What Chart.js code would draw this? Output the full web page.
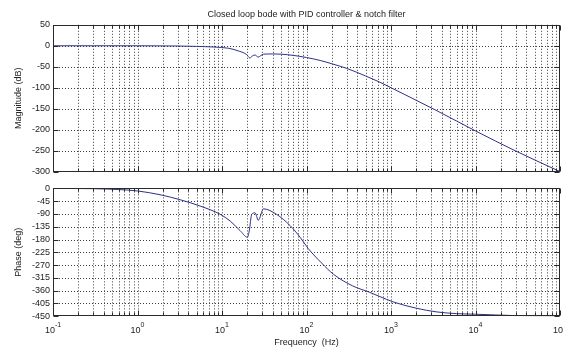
<!DOCTYPE html>
<html>
<head>
<meta charset="utf-8">
<script src="https://cdn.jsdelivr.net/npm/chart.js@4.4.1/dist/chart.umd.min.js"></script>
<style>
  html, body { margin: 0; padding: 0; background: #fff; }
  #wrap { position: relative; width: 563px; height: 351px; overflow: hidden; }
  #magBox { position: absolute; left: 0; top: 0; width: 563px; height: 180px; }
  #phaseBox { position: absolute; left: 0; top: 180px; width: 563px; height: 171px; }
</style>
</head>
<body>
<div id="wrap">
  <div id="magBox"><canvas id="mag" width="563" height="180"></canvas></div>
  <div id="phaseBox"><canvas id="phase" width="563" height="171"></canvas></div>
</div>
<script>
(function(){
  // texts
  const titleText = 'Closed loop bode with PID controller & notch filter';
  const magLabel = 'Magnitude (dB)';
  const phaseLabel = 'Phase (deg)';
  const freqLabel = 'Frequency  (Hz)';

  // magnitude curve (Hz, dB)
  const magFreq = [0.1, 0.3, 1, 2, 3, 5, 8, 12, 16, 19.6, 21.3, 23, 24.6, 26.8, 28.5, 31, 40, 50, 70, 100,
                   145, 200, 300, 500, 740, 1000, 3500, 10000, 30000, 100000];
  const magDb = [0, 0, 0, -0.3, -0.6, -1.5, -3, -6, -13, -21, -29, -24, -22, -27, -24, -20, -19.5, -20, -23, -28,
                 -35, -43, -54, -72, -87, -100, -155, -203, -251, -300];

  // phase curve (Hz, deg)
  const phaseFreq = [0.1, 0.3, 0.6, 1, 1.9, 3.2, 5.5, 9.5, 12.5, 16.3, 20, 21, 22.5, 24.6, 26.9, 31, 44, 64, 84,
                     105, 150, 210, 350, 560, 740, 1070, 2000, 3500, 6000, 10000, 30000, 100000];
  const phaseDeg = [0, -1, -4, -9, -23, -40, -62, -91, -115, -148, -172, -150, -91, -86, -112, -72, -91, -131, -172,
                    -212, -262, -303, -343, -366, -381, -400, -422, -435, -441, -443, -448, -450];

  // axes
  const decadeExp = [-1, 0, 1, 2, 3, 4, 5];
  const magTicks = [50, 0, -50, -100, -150, -200, -250, -300];
  const phaseTicks = [0, -45, -90, -135, -180, -225, -270, -315, -360, -405, -450];

  const FONT = '"Liberation Sans", Arial, Helvetica, sans-serif';
  const LINE = '#2e3188';
  const TEXT = '#222';

  Chart.defaults.font.family = FONT;
  Chart.defaults.font.size = 9;
  Chart.defaults.color = TEXT;

  // every 1..9 x 10^k position for grid and tick marks
  const xGrid = [];
  for(let k=-1;k<5;k++){
    for(let m=1;m<10;m++) xGrid.push(m * Math.pow(10,k));
  }
  xGrid.push(1e5);
  const isDecade = v => Math.abs(Math.log10(v) - Math.round(Math.log10(v))) < 1e-9;

  const bodeFrame = {
    id: 'bodeFrame',
    beforeDatasetsDraw(chart){
      const {ctx, chartArea: a, scales: {x, y}} = chart;
      const yVals = chart.options.plugins.bodeFrame.yVals;
      ctx.save();
      ctx.strokeStyle = '#3c3c3c';
      ctx.lineWidth = 1;
      ctx.setLineDash([1,2]);
      ctx.beginPath();
      xGrid.forEach(v=>{
        const px = Math.round(x.getPixelForValue(v)) + 0.5;
        if(px > a.left + 1 && px < a.right - 1){ ctx.moveTo(px, a.top); ctx.lineTo(px, a.bottom); }
      });
      yVals.forEach(v=>{
        const py = Math.round(y.getPixelForValue(v)) + 0.5;
        if(py > a.top + 1 && py < a.bottom - 1){ ctx.moveTo(a.left, py); ctx.lineTo(a.right, py); }
      });
      ctx.stroke();
      ctx.restore();
    },
    afterDatasetsDraw(chart){
      const {ctx, chartArea: a, scales: {x, y}} = chart;
      const opts = chart.options.plugins.bodeFrame;
      const L = Math.round(a.left) + 0.5, R = Math.round(a.right) - 0.5;
      const T = Math.round(a.top) + 0.5, B = Math.round(a.bottom) - 0.5;
      ctx.save();
      ctx.setLineDash([]);
      ctx.strokeStyle = '#2a2a2a';
      ctx.lineWidth = 1;
      ctx.strokeRect(L, T, R - L, B - T);
      ctx.beginPath();
      xGrid.forEach(v=>{
        const px = Math.round(x.getPixelForValue(v)) + 0.5;
        const len = isDecade(v) ? 5 : 3;
        ctx.moveTo(px, B); ctx.lineTo(px, B - len);
        ctx.moveTo(px, T); ctx.lineTo(px, T + len);
      });
      opts.yVals.forEach(v=>{
        const py = Math.round(y.getPixelForValue(v)) + 0.5;
        ctx.moveTo(L, py); ctx.lineTo(L + 5, py);
        ctx.moveTo(R, py); ctx.lineTo(R - 5, py);
      });
      ctx.stroke();

      if(opts.xLabels){
        ctx.fillStyle = TEXT;
        ctx.textBaseline = 'alphabetic';
        ctx.textAlign = 'left';
        decadeExp.forEach(e=>{
          const px = x.getPixelForValue(Math.pow(10,e));
          ctx.font = '9px ' + FONT;
          const wb = ctx.measureText('10').width;
          ctx.font = '7px ' + FONT;
          const we = ctx.measureText(String(e)).width;
          const x0 = px - (wb + we) / 2;
          ctx.font = '9px ' + FONT;
          ctx.fillText('10', x0, a.bottom + 17);
          ctx.font = '7px ' + FONT;
          ctx.fillText(String(e), x0 + wb, a.bottom + 11);
        });
      }
      ctx.restore();
    }
  };

  function makeChart(id, freq, vals, ticks, yLabel, extra){
    const pts = freq.map((f,i)=>({x: f, y: vals[i]}));
    return new Chart(document.getElementById(id).getContext('2d'), {
      type: 'line',
      data: {
        datasets: [{
          data: pts,
          borderColor: LINE,
          borderWidth: 1,
          pointRadius: 0,
          fill: false,
          cubicInterpolationMode: 'monotone'
        }]
      },
      options: {
        responsive: false,
        animation: false,
        devicePixelRatio: 1,
        layout: { padding: extra.padding },
        scales: {
          x: { type: 'logarithmic', min: 0.1, max: 1e5, display: false },
          y: {
            type: 'linear',
            min: ticks[ticks.length-1],
            max: ticks[0],
            afterBuildTicks: s => { s.ticks = ticks.map(v=>({value: v})); },
            afterFit: s => { s.width = 53; },
            grid: { display: false, drawTicks: false },
            border: { display: false },
            ticks: { padding: 3, color: TEXT, font: { size: 9 }, autoSkip: false },
            title: { display: true, text: yLabel, color: TEXT, font: { size: 9 }, padding: { top: 13, bottom: 0 } }
          }
        },
        plugins: {
          legend: { display: false },
          tooltip: { enabled: false },
          title: extra.title,
          bodeFrame: { yVals: ticks, xLabels: extra.xLabels }
        }
      },
      plugins: [bodeFrame]
    });
  }

  makeChart('mag', magFreq, magDb, magTicks, magLabel, {
    padding: { top: 0, right: 3, bottom: 5, left: 0 },
    xLabels: false,
    title: { display: true, text: titleText, position: 'top', fullSize: false, color: TEXT,
             font: { size: 9, weight: 'normal' }, padding: { top: 9, bottom: 5 } }
  });

  makeChart('phase', phaseFreq, phaseDeg, phaseTicks, phaseLabel, {
    padding: { top: 5, right: 3, bottom: 0, left: 0 },
    xLabels: true,
    title: { display: true, text: freqLabel, position: 'bottom', fullSize: false, color: TEXT,
             font: { size: 9, weight: 'normal' }, padding: { top: 21, bottom: 3 } }
  });
})();
</script>
</body>
</html>
